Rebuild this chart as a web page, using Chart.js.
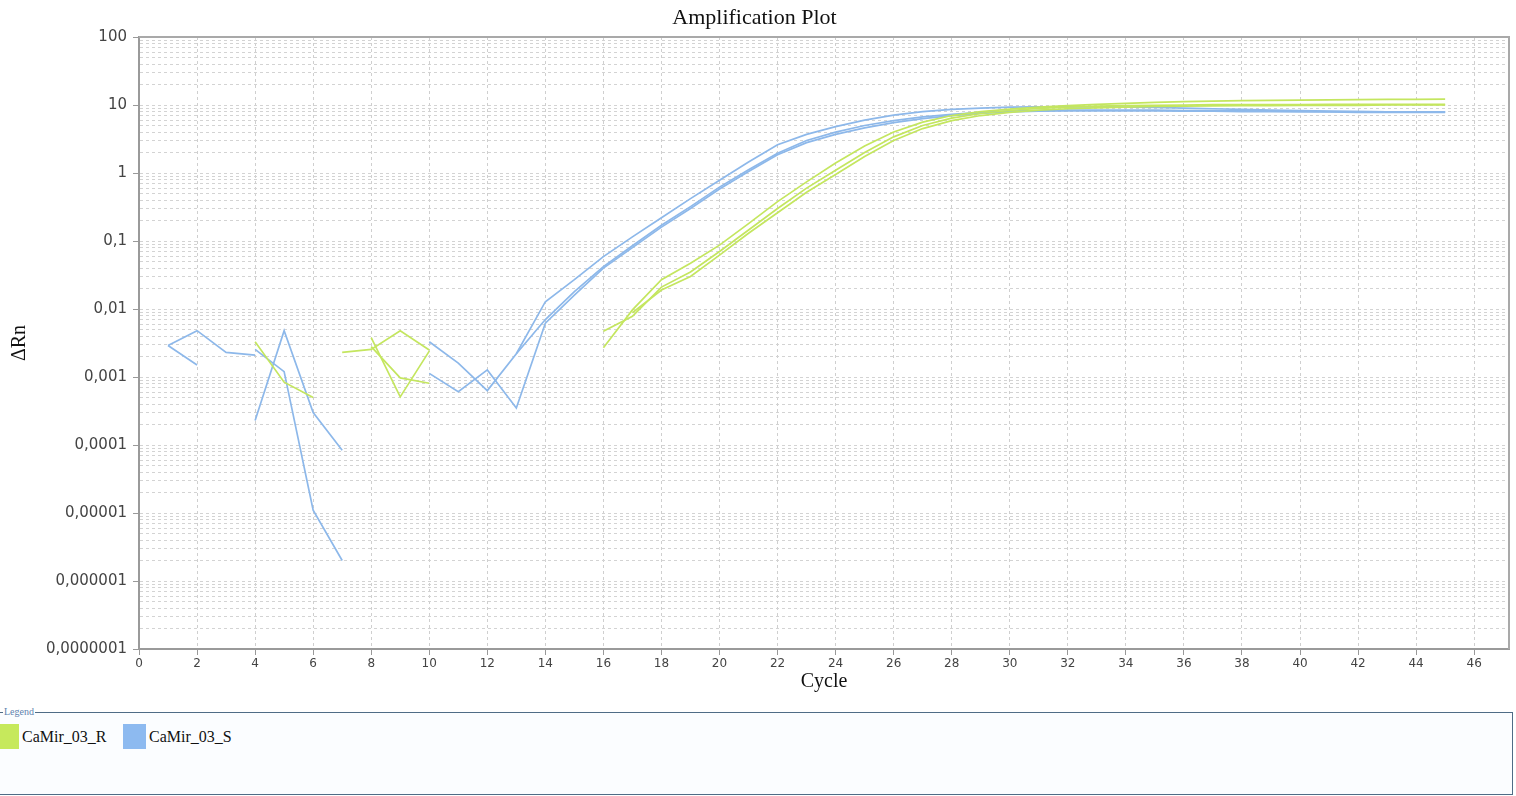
<!DOCTYPE html>
<html>
<head>
<meta charset="utf-8">
<title>Amplification Plot</title>
<script src="https://cdn.jsdelivr.net/npm/chart.js@4.4.0/dist/chart.umd.min.js"></script>
<style>
    body { margin: 0; background: #ffffff; width: 1516px; height: 796px; overflow: hidden; position: relative; }
    #grafica { position: absolute; left: 0; top: 0; }
    #leyenda {
        position: absolute; left: -2px; top: 706px; width: 1515px; height: 89px;
        box-sizing: border-box; margin: 0; padding: 0;
        border: 1px solid #4f6c86; background: #fbfdff;
    }
    #leyenda legend {
        font-family: "Liberation Serif", serif; font-size: 10px; color: #5d82ae;
        padding: 0 1px; margin-left: 4px; line-height: 12px;
    }
    .item { position: absolute; top: 6px; display: flex; align-items: center; }
    .cuadro { width: 23px; height: 25px; margin-right: 3px; }
    .item span { font-family: "Liberation Serif", serif; font-size: 16px; color: #111; }
</style>
</head>
<body>
<canvas id="grafica" width="1516" height="706"></canvas>
<fieldset id="leyenda">
    <legend>Legend</legend>
    <div class="item" style="left:-3px"><div class="cuadro" style="background:#c6e95c"></div><span>CaMir_03_R</span></div>
    <div class="item" style="left:124px"><div class="cuadro" style="background:#8dbaf0"></div><span>CaMir_03_S</span></div>
</fieldset>
<script>
// ciclos 1..45
var ciclos = [1, 2, 3, 4, 5, 6, 7, 8, 9, 10, 11, 12, 13, 14, 15, 16, 17, 18, 19, 20,
    21, 22, 23, 24, 25, 26, 27, 28, 29, 30, 31, 32, 33, 34, 35, 36, 37, 38, 39, 40,
    41, 42, 43, 44, 45];

// CaMir_03_R (3 replicas), null = valor negativo, no se dibuja en escala log
var muestraR1 = [null, null, null, 0.0033, 0.00084, 0.0005, null, 0.0038, 0.00051, 0.0024,
    null, null, null, null, null, 0.0047, 0.0078, 0.021, 0.035, 0.070,
    0.145, 0.30, 0.60, 1.10, 2.0, 3.4, 5.0, 6.4, 7.5, 8.3,
    8.9, 9.3, 9.6, 9.8, 9.9, 10.0, 10.1, 10.1, 10.1, 10.1,
    10.2, 10.2, 10.2, 10.2, 10.2];
var muestraR2 = [null, null, null, null, null, null, 0.0023, 0.00255, 0.0048, 0.0025,
    null, null, null, null, null, 0.0027, 0.0097, 0.027, 0.047, 0.087,
    0.18, 0.38, 0.74, 1.4, 2.5, 4.0, 5.6, 7.0, 8.0, 8.7,
    9.3, 9.8, 10.2, 10.6, 10.9, 11.2, 11.4, 11.6, 11.7, 11.8,
    11.9, 12.0, 12.1, 12.1, 12.2];
var muestraR3 = [null, null, null, null, null, null, null, 0.0028, 0.00097, 0.00081,
    null, null, null, null, null, null, 0.0088, 0.019, 0.030, 0.062,
    0.13, 0.26, 0.52, 0.95, 1.75, 3.0, 4.5, 5.9, 7.0, 7.8,
    8.4, 8.8, 9.1, 9.3, 9.5, 9.6, 9.7, 9.8, 9.8, 9.9,
    9.9, 9.9, 10.0, 10.0, 10.0];

// CaMir_03_S (3 replicas)
var muestraS1 = [0.0029, 0.0048, 0.0023, 0.0021, null, null, null, null, null, 0.0033,
    0.0016, 0.00063, 0.0022, 0.0128, 0.027, 0.059, 0.115, 0.22, 0.42, 0.78,
    1.45, 2.6, 3.7, 4.8, 6.0, 7.1, 8.0, 8.6, 9.0, 9.3,
    9.4, 9.4, 9.4, 9.3, 9.2, 9.0, 8.8, 8.6, 8.4, 8.3,
    8.1, 8.0, 7.9, 7.9, 7.9];
var muestraS2 = [0.0029, 0.0015, null, 0.00255, 0.0012, 0.000011, 0.000002, null, null, 0.00113,
    0.00061, 0.00127, 0.00035, 0.0062, 0.016, 0.040, 0.080, 0.16, 0.30, 0.58,
    1.05, 1.85, 2.8, 3.7, 4.6, 5.5, 6.3, 7.0, 7.5, 7.9,
    8.1, 8.2, 8.2, 8.2, 8.2, 8.1, 8.1, 8.0, 8.0, 7.9,
    7.9, 7.8, 7.8, 7.8, 7.8];
var muestraS3 = [null, null, null, 0.00023, 0.0048, 0.0003, 0.000084, null, null, null,
    null, null, 0.0022, 0.0070, 0.018, 0.042, 0.085, 0.17, 0.32, 0.62,
    1.12, 1.95, 3.0, 4.0, 5.0, 5.9, 6.7, 7.3, 7.8, 8.1,
    8.3, 8.4, 8.4, 8.4, 8.4, 8.3, 8.3, 8.2, 8.2, 8.1,
    8.0, 8.0, 7.9, 7.9, 7.9];

// etiquetas del eje y (décadas)
var decadasY = [1e-7, 1e-6, 1e-5, 1e-4, 1e-3, 1e-2, 1e-1, 1, 10, 100];
var etiquetasY = ["0,0000001", "0,000001", "0,00001", "0,0001", "0,001", "0,01", "0,1", "1", "10", "100"];

var colorR = "#c4e65f";
var colorS = "#8db8ea";

function puntos(valores) {
    return ciclos.map(function (c, i) {
        return { x: c, y: valores[i] };
    });
}

function serie(nombre, valores, color) {
    return {
        label: nombre,
        data: puntos(valores),
        borderColor: color,
        backgroundColor: color,
        borderWidth: 1.7,
        pointRadius: 0,
        tension: 0,
        spanGaps: false
    };
}

function esDecada(v) {
    var e = Math.log10(v);
    return Math.abs(e - Math.round(e)) < 1e-9;
}

var marco = {
    id: "marco",
    afterDatasetsDraw: function (chart) {
        var a = chart.chartArea;
        var ctx = chart.ctx;
        ctx.save();
        ctx.strokeStyle = "#a9a9a9";
        ctx.lineWidth = 2;
        ctx.beginPath();
        ctx.moveTo(a.left, a.top);
        ctx.lineTo(a.right, a.top);
        ctx.lineTo(a.right, a.bottom);
        ctx.stroke();
        ctx.restore();
    }
};

var ctx = document.getElementById("grafica").getContext("2d");
var chart = new Chart(ctx, {
    type: "line",
    plugins: [marco],
    data: {
        datasets: [
            serie("CaMir_03_R", muestraR1, colorR),
            serie("CaMir_03_R", muestraR2, colorR),
            serie("CaMir_03_R", muestraR3, colorR),
            serie("CaMir_03_S", muestraS1, colorS),
            serie("CaMir_03_S", muestraS2, colorS),
            serie("CaMir_03_S", muestraS3, colorS)
        ]
    },
    options: {
        responsive: false,
        animation: false,
        layout: { padding: { left: 0, right: 7, top: 0, bottom: 0 } },
        plugins: {
            legend: { display: false },
            tooltip: { enabled: false },
            title: {
                display: true,
                text: "Amplification Plot",
                color: "#111",
                font: { family: "Liberation Serif", size: 22, weight: "normal", lineHeight: 1.2 },
                padding: { top: 5, bottom: 5.6 }
            }
        },
        scales: {
            x: {
                type: "linear",
                min: 0,
                max: 47.2,
                afterFit: function (scale) { scale.height = 57; },
                ticks: {
                    stepSize: 2,
                    includeBounds: false,
                    color: "#444",
                    padding: 2,
                    font: { family: "DejaVu Sans", size: 12 }
                },
                grid: { color: "#cfcfcf", tickColor: "#999", tickLength: 6, lineWidth: 1 },
                border: { display: true, color: "#9a9a9a", width: 2, dash: [3, 3] },
                title: {
                    display: true,
                    text: "Cycle",
                    color: "#111",
                    font: { family: "Liberation Serif", size: 20, lineHeight: 1.2 },
                    padding: { top: 0, bottom: 12 }
                }
            },
            y: {
                type: "logarithmic",
                min: 1e-7,
                max: 100,
                afterFit: function (scale) { scale.width = 139; },
                afterBuildTicks: function (scale) {
                    var t = [];
                    for (var e = -7; e < 2; e++) {
                        for (var s = 1; s < 10; s++) {
                            t.push({ value: s * Math.pow(10, e), major: s === 1 });
                        }
                    }
                    t.push({ value: 100, major: true });
                    scale.ticks = t;
                },
                ticks: {
                    autoSkip: false,
                    color: "#444",
                    padding: 6,
                    font: { family: "DejaVu Sans", size: 15 },
                    callback: function (value) {
                        var i = decadasY.findIndex(function (d) { return Math.abs(d - value) / d < 1e-6; });
                        return i >= 0 ? etiquetasY[i] : "";
                    }
                },
                grid: {
                    color: "#d3d3d3",
                    lineWidth: 1,
                    tickLength: 6,
                    tickColor: function (c) {
                        return c.tick && esDecada(c.tick.value) ? "#999" : "rgba(0,0,0,0)";
                    }
                },
                border: { display: true, color: "#9a9a9a", width: 2, dash: [3, 3] },
                title: {
                    display: true,
                    text: "ΔRn",
                    color: "#111",
                    font: { family: "Liberation Serif", size: 20, lineHeight: 1.2 },
                    padding: { top: 8, bottom: 0 }
                }
            }
        }
    }
});
</script>
</body>
</html>
